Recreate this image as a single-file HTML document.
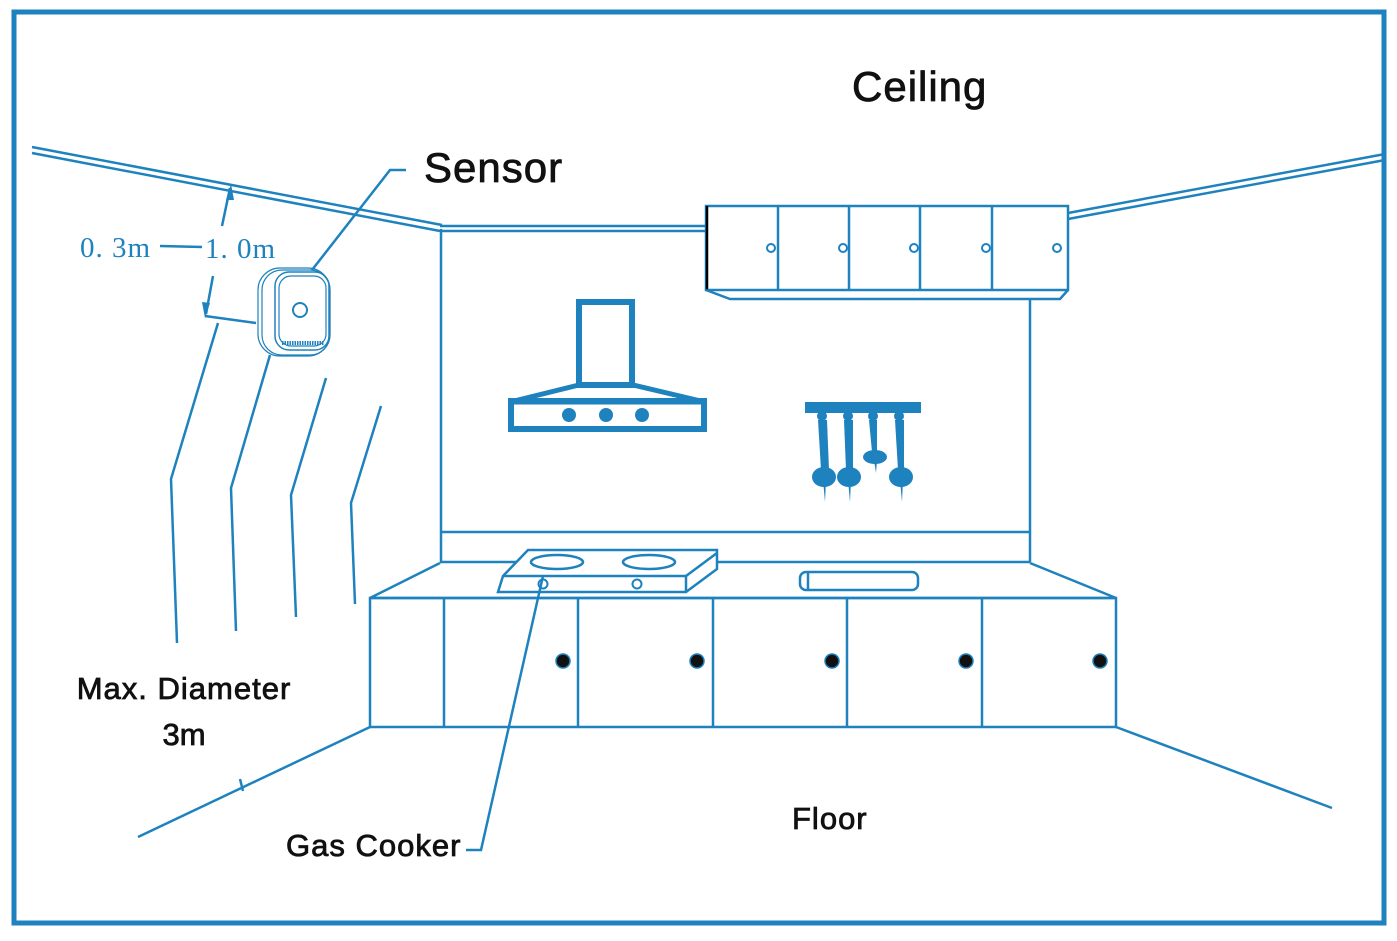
<!DOCTYPE html>
<html><head><style>html,body{margin:0;padding:0;background:#fff}svg{display:block}</style></head>
<body>
<svg width="1397" height="941" viewBox="0 0 1397 941" xmlns="http://www.w3.org/2000/svg">
<rect width="1397" height="941" fill="#fff"/>
<g fill="none" stroke="#1e82be" stroke-width="2.5">
<rect x="14" y="12" width="1370" height="911" stroke-width="5"/>
<line x1="32" y1="147" x2="442" y2="225"/>
<line x1="32" y1="153" x2="440" y2="231"/>
<line x1="440" y1="226" x2="706" y2="226"/>
<line x1="440" y1="231" x2="706" y2="231"/>
<line x1="1068" y1="213" x2="1385" y2="154"/>
<line x1="1068" y1="219" x2="1385" y2="160"/>
<line x1="441" y1="229" x2="441" y2="562"/>
<line x1="1030" y1="299" x2="1030" y2="562"/>
<line x1="440" y1="532" x2="1030" y2="532"/>
<line x1="440" y1="562" x2="1030" y2="562"/>
<rect x="706" y="206" width="362" height="84"/>
<line x1="707" y1="206" x2="707" y2="290" stroke="#000"/>
<line x1="778" y1="206" x2="778" y2="290"/>
<line x1="849" y1="206" x2="849" y2="290"/>
<line x1="920" y1="206" x2="920" y2="290"/>
<line x1="992" y1="206" x2="992" y2="290"/>
<polyline points="706,290 730,299 1060,299 1068,290"/>
<circle cx="771" cy="248" r="4" stroke-width="2"/>
<circle cx="843" cy="248" r="4" stroke-width="2"/>
<circle cx="914" cy="248" r="4" stroke-width="2"/>
<circle cx="986" cy="248" r="4" stroke-width="2"/>
<circle cx="1057" cy="248" r="4" stroke-width="2"/>
<polyline points="440,563 370,598 1116,598 1030,563"/>
<rect x="370" y="598" width="746" height="129"/>
<line x1="444" y1="598" x2="444" y2="727"/>
<line x1="578" y1="598" x2="578" y2="727"/>
<line x1="713" y1="598" x2="713" y2="727"/>
<line x1="847" y1="598" x2="847" y2="727"/>
<line x1="982" y1="598" x2="982" y2="727"/>
<line x1="370" y1="727" x2="138" y2="837"/>
<line x1="1116" y1="727" x2="1332" y2="808"/>
<line x1="240" y1="779" x2="243" y2="791"/>
<polygon points="528,550 717,550 717,569 686,592 498,592 503,576" fill="#fff"/>
<line x1="503" y1="576" x2="686" y2="576"/>
<line x1="686" y1="576" x2="686" y2="592"/>
<line x1="686" y1="576" x2="717" y2="553"/>
<ellipse cx="557" cy="562" rx="26" ry="7"/>
<ellipse cx="649" cy="562" rx="26" ry="7"/>
<circle cx="543" cy="584" r="4.5" stroke-width="2"/>
<circle cx="637" cy="584" r="4.5" stroke-width="2"/>
<rect x="800" y="572" width="118" height="18" rx="6"/>
<line x1="808" y1="573" x2="808" y2="589"/>
<rect x="579" y="302" width="53" height="83" stroke-width="6"/>
<polygon points="579,385 633,385 705,402 510,402" stroke-width="5"/>
<rect x="511" y="401" width="193" height="28" stroke-width="6"/>
<polyline points="312,270 390,170 406,170"/>
<polyline points="543,576 481,850 466,850"/>
<line x1="230" y1="188" x2="222" y2="226"/>
<line x1="213" y1="276" x2="206" y2="314"/>
<line x1="205" y1="316" x2="256" y2="323"/>
<line x1="160" y1="246" x2="202" y2="247"/>
<polyline points="218,323 171,479 177,643"/>
<polyline points="270,355 231,488 236,631"/>
<polyline points="326,378 291,495 296,617"/>
<polyline points="381,406 351,503 355,604"/>
<rect x="258" y="268" width="72" height="88" rx="22" stroke-width="1.2"/>
<rect x="262" y="270" width="68" height="85" rx="20" stroke-width="1.2"/>
<rect x="275" y="272" width="54" height="78" rx="14" stroke-width="1.5"/>
<rect x="279" y="276" width="47" height="70" rx="12" stroke-width="1.2"/>
<circle cx="300" cy="310" r="7" stroke-width="2"/>
<line x1="282" y1="343" x2="324" y2="343" stroke-width="4" stroke-dasharray="1.5 1"/>
</g>
<g fill="#1e82be">
<polygon points="231,184 226,200 234,200"/>
<polygon points="205,318 202,302 210,303"/>
<circle cx="569" cy="415" r="7"/><circle cx="606" cy="415" r="7"/><circle cx="642" cy="415" r="7"/>
<rect x="805" y="402" width="116" height="11"/>
<circle cx="822" cy="416" r="5"/><polygon points="818,420 827,420 829,470 821,470"/><ellipse cx="824" cy="477" rx="12" ry="10"/><polygon points="823,480 826,480 825,502"/>
<circle cx="848" cy="416" r="5"/><polygon points="844,420 853,420 853,470 846,470"/><ellipse cx="849" cy="477" rx="12" ry="10"/><polygon points="848,480 851,480 850,502"/>
<circle cx="873" cy="416" r="5"/><polygon points="869,420 877,420 877,452 872,452"/><ellipse cx="875" cy="457" rx="12" ry="7"/><polygon points="874,460 877,460 876,473"/>
<circle cx="899" cy="416" r="5"/><polygon points="895,420 904,420 904,470 898,470"/><ellipse cx="901" cy="477" rx="12" ry="10"/><polygon points="900,480 903,480 902,502"/>
</g>
<g fill="#111" stroke="#1e82be" stroke-width="1.5">
<circle cx="563" cy="661" r="7"/><circle cx="697" cy="661" r="7"/><circle cx="832" cy="661" r="7"/><circle cx="966" cy="661" r="7"/><circle cx="1100" cy="661" r="7"/>
</g>
<g font-family="'Liberation Sans', sans-serif" fill="#111" stroke="#111" stroke-width="0.8">
<text x="852" y="101" font-size="42" letter-spacing="1">Ceiling</text>
<text x="424" y="182" font-size="42" letter-spacing="1">Sensor</text>
<text x="184" y="699" font-size="31" letter-spacing="1" text-anchor="middle">Max. Diameter</text>
<text x="184" y="745" font-size="31" text-anchor="middle">3m</text>
<text x="286" y="856" font-size="31" letter-spacing="1">Gas Cooker</text>
<text x="792" y="829" font-size="31" letter-spacing="1">Floor</text>
</g>
<g font-family="'Liberation Serif', serif" fill="#1e82be" font-size="29">
<text x="80" y="257" letter-spacing="1">0. 3m</text>
<text x="205" y="258" letter-spacing="1">1. 0m</text>
</g>
</svg>
</body></html>
